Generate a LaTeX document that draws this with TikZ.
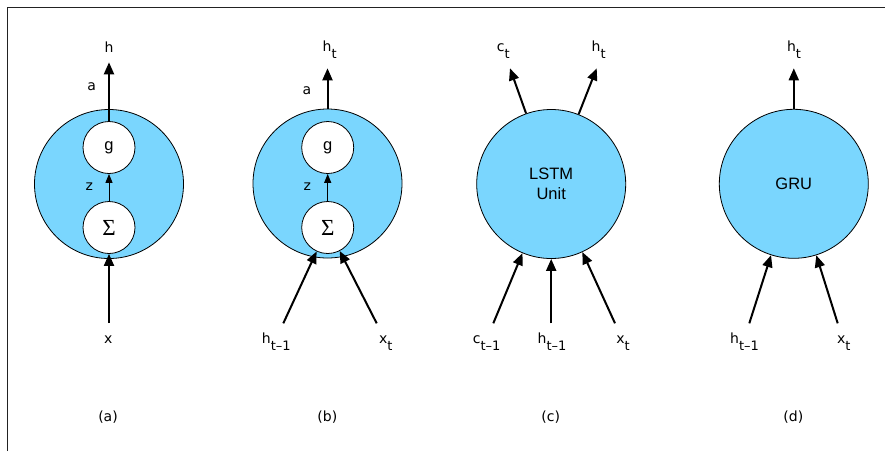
\documentclass[tikz,border=0pt]{standalone}
\usepackage{fontspec}
\setmainfont{Liberation Sans}
\newfontfamily\lblfont{DejaVu Sans}
\newfontfamily\sigfont{Liberation Serif}
\usetikzlibrary{arrows.meta}
\definecolor{cellblue}{RGB}{122,214,254}
\definecolor{frame}{RGB}{34,34,34}
\newcommand\lb[2]{#1\raisebox{-7pt}{\fontsize{13}{14}\selectfont #2}}
\begin{document}
\begin{tikzpicture}[x=1pt,y=-1pt,
  cell/.style={circle,draw=black,line width=0.8pt,fill=cellblue,minimum size=149pt,inner sep=0pt,font=\fontsize{16.5}{20}\selectfont,align=center},
  innercell/.style={circle,draw=black,line width=0.8pt,fill=white,minimum size=52pt,inner sep=0pt},
  gtext/.style={font=\fontsize{16.5}{17}\selectfont},
  stext/.style={font=\sigfont\fontsize{23}{23}\selectfont},
  arr/.style={line width=2pt,-{Triangle[length=12pt,width=10pt]}},
  smallarr/.style={line width=1pt,-{Triangle[length=9pt,width=7pt]}},
  lbl/.style={font=\lblfont\fontsize{14}{15}\selectfont,anchor=base,inner sep=0pt},
]
\path[use as bounding box] (0,0) rectangle (885,451);
\draw[frame,line width=1.2pt] (7.5,451) -- (7.5,7.5) -- (885,7.5);

% (a)
\node[cell] (A) at (109,184) {};
\node[innercell,gtext] (Ag) at (109,147.5) {g};
\node[innercell,stext] (As) at (109,227.5) {Σ};
\coordinate (Aout) at (109,62.3);
\coordinate (Ain) at (109,323);
\draw[arr] (Ag.north) -- (Aout);
\draw[smallarr] (As.north) -- (Ag.south);
\draw[arr] (Ain) -- (As.south);
\node[lbl] (Ah) at (109,52.3) {h};
\node[lbl] (Aa) at (91.7,90.7) {a};
\node[lbl] (Az) at (89.3,190.7) {z};
\node[lbl] (Ax) at (108.3,343.3) {x};
\node[lbl] (Acap) at (108,421) {(a)};

% (b)
\node[cell] (B) at (327.5,183.5) {};
\node[innercell,gtext] (Bg) at (327.7,147.5) {g};
\node[innercell,stext] (Bs) at (327.7,227.5) {Σ};
\coordinate (Bout) at (327.5,68.3);
\coordinate (Bhin) at (283.3,323.3);
\coordinate (Bxin) at (376.7,323.3);
\draw[arr] (B.north) -- (Bout);
\draw[smallarr] (Bs.north) -- (Bg.south);
\draw[arr] (Bhin) -- (Bs);
\draw[arr] (Bxin) -- (Bs);
\node[lbl] (Bht) at (329.7,51.7) {\lb{h}{t}};
\node[lbl] (Ba) at (307,94) {a};
\node[lbl] (Bz) at (307.3,190.7) {z};
\node[lbl] (Bhl) at (276.3,343.3) {\lb{h}{t–1}};
\node[lbl] (Bxl) at (385.8,343.8) {\lb{x}{t}};
\node[lbl] (Bcap) at (327.3,421) {(b)};

% (c)
\node[cell] (C) at (551.2,184) {LSTM\\Unit};
\coordinate (Cc) at (510,68.3);
\coordinate (Ch) at (596.7,68.3);
\coordinate (Ccin) at (493.3,323.3);
\coordinate (Chin) at (551.2,323.3);
\coordinate (Cxin) at (615,323.3);
\draw[arr] (C) -- (Cc);
\draw[arr] (C) -- (Ch);
\draw[arr] (Ccin) -- (C);
\draw[arr] (Chin) -- (C);
\draw[arr] (Cxin) -- (C);
\node[lbl] (Cct) at (503.3,51.7) {\lb{c}{t}};
\node[lbl] (Cht) at (598.7,51.7) {\lb{h}{t}};
\node[lbl] (Ccl) at (486.7,343.3) {\lb{c}{t–1}};
\node[lbl] (Chl) at (552,343.3) {\lb{h}{t–1}};
\node[lbl] (Cxl) at (623,343.8) {\lb{x}{t}};
\node[lbl] (Ccap) at (550.7,421) {(c)};

% (d)
\node[cell] (D) at (793.8,183.8) {GRU};
\coordinate (Dout) at (793.8,68.3);
\coordinate (Dhin) at (749.3,323.3);
\coordinate (Dxin) at (837.7,323.3);
\draw[arr] (D.north) -- (Dout);
\draw[arr] (Dhin) -- (D);
\draw[arr] (Dxin) -- (D);
\node[lbl] (Dht) at (794,51.7) {\lb{h}{t}};
\node[lbl] (Dhl) at (744.5,343.3) {\lb{h}{t–1}};
\node[lbl] (Dxl) at (843.7,343.8) {\lb{x}{t}};
\node[lbl] (Dcap) at (793.3,421) {(d)};
\end{tikzpicture}
\end{document}
